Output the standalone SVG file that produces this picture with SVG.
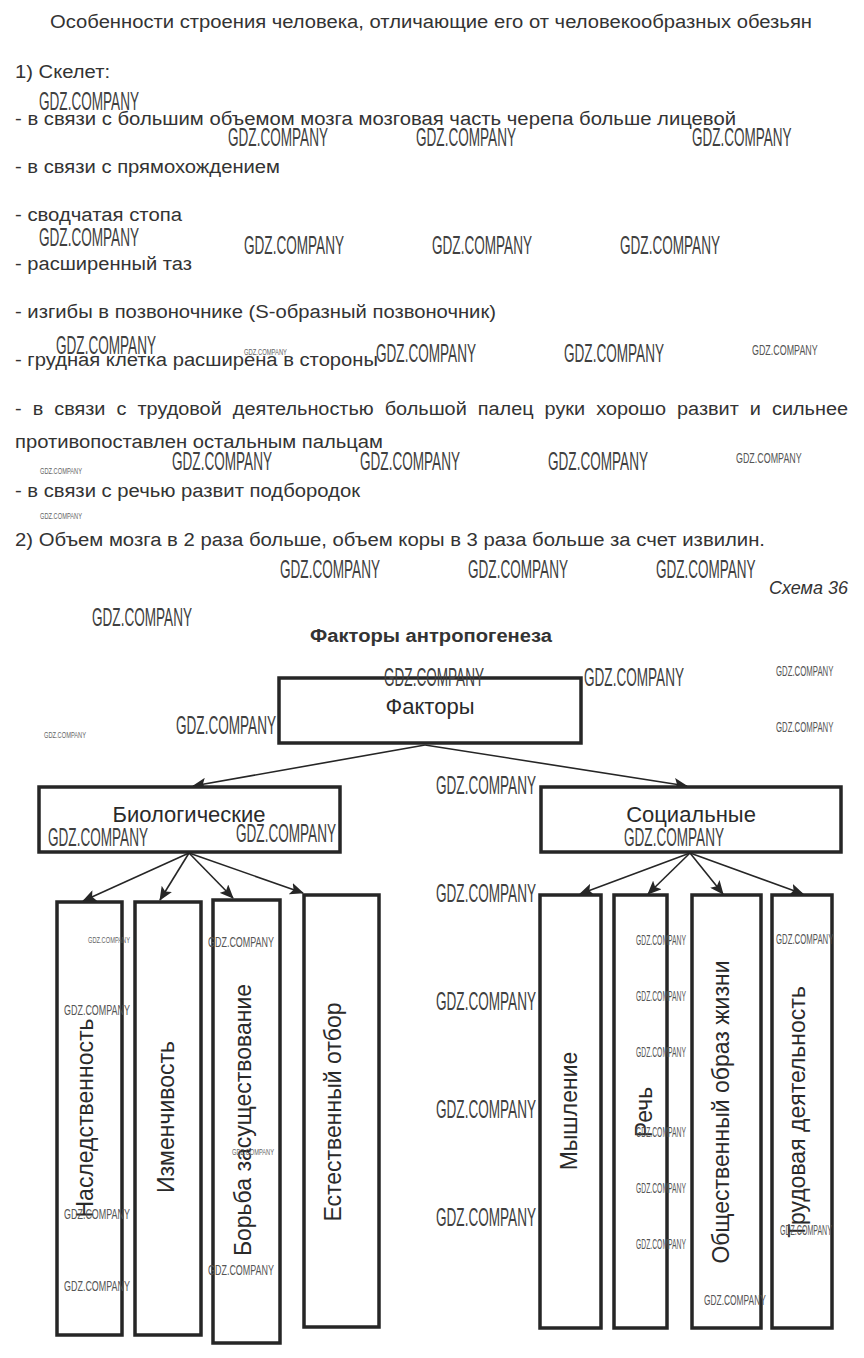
<svg xmlns="http://www.w3.org/2000/svg" width="864" height="1358" viewBox="0 0 864 1358">
<defs>
<style>
.t{font-family:"Liberation Sans",Arial,sans-serif;font-size:18px;fill:#333}
.box{fill:#fff;stroke:#262626;stroke-width:3.5}
.lbl{font-family:"Liberation Sans",Arial,sans-serif;font-size:22px;fill:#2a2a2a;text-anchor:middle}
.vl{font-family:"Liberation Sans",Arial,sans-serif;font-size:23px;fill:#2a2a2a;text-anchor:middle}
.con{stroke:#262626;stroke-width:1.6;fill:none;marker-end:url(#ah)}
.wm{font-family:"Liberation Sans",Arial,sans-serif;fill:#404040}
.wb{font-size:26px}
.wmd{font-size:15px;fill:#555}
.ws{font-size:9px;fill:#666}
</style>
<marker id="ah" markerUnits="userSpaceOnUse" markerWidth="14" markerHeight="12" viewBox="0 0 14 12" refX="13" refY="6" orient="auto">
<path d="M0,0 L14,6 L0,12 L3,6 Z" fill="#262626"/>
</marker>
</defs>
<rect width="864" height="1358" fill="#fff"/>

<g id="text">
<text class="t" x="50" y="28" textLength="762" lengthAdjust="spacingAndGlyphs">Особенности строения человека, отличающие его от человекообразных обезьян</text>
<text class="t" x="15" y="78" textLength="95" lengthAdjust="spacingAndGlyphs">1) Скелет:</text>
<text class="t" x="15" y="125" textLength="721" lengthAdjust="spacingAndGlyphs">- в связи с большим объемом мозга мозговая часть черепа больше лицевой</text>
<text class="t" x="15" y="173" textLength="265" lengthAdjust="spacingAndGlyphs">- в связи с прямохождением</text>
<text class="t" x="15" y="221" textLength="167" lengthAdjust="spacingAndGlyphs">- сводчатая стопа</text>
<text class="t" x="15" y="270" textLength="177" lengthAdjust="spacingAndGlyphs">- расширенный таз</text>
<text class="t" x="15" y="318" textLength="481" lengthAdjust="spacingAndGlyphs">- изгибы в позвоночнике (S-образный позвоночник)</text>
<text class="t" x="15" y="366" textLength="363" lengthAdjust="spacingAndGlyphs">- грудная клетка расширена в стороны</text>
<text class="t" x="15" y="415" word-spacing="5" textLength="833" lengthAdjust="spacingAndGlyphs">- в связи с трудовой деятельностью большой палец руки хорошо развит и сильнее</text>
<text class="t" x="15" y="448" textLength="368" lengthAdjust="spacingAndGlyphs">противопоставлен остальным пальцам</text>
<text class="t" x="15" y="497" textLength="345" lengthAdjust="spacingAndGlyphs">- в связи с речью развит подбородок</text>
<text class="t" x="15" y="546" textLength="750" lengthAdjust="spacingAndGlyphs">2) Объем мозга в 2 раза больше, объем коры в 3 раза больше за счет извилин.</text>
<text class="t" x="848" y="594" text-anchor="end" font-style="italic">Схема 36</text>
<text class="t" x="431" y="642" text-anchor="middle" font-weight="bold" font-size="17px" textLength="242" lengthAdjust="spacingAndGlyphs">Факторы антропогенеза</text>
</g>

<g id="connectors">
<line class="con" x1="425" y1="745" x2="193" y2="786"/>
<line class="con" x1="425" y1="745" x2="687" y2="786"/>
<line class="con" x1="189" y1="853" x2="83" y2="901"/>
<line class="con" x1="189" y1="853" x2="160" y2="900"/>
<line class="con" x1="189" y1="853" x2="233" y2="898"/>
<line class="con" x1="189" y1="853" x2="303" y2="893"/>
<line class="con" x1="690" y1="853" x2="580" y2="894"/>
<line class="con" x1="690" y1="853" x2="648" y2="894"/>
<line class="con" x1="690" y1="853" x2="723" y2="894"/>
<line class="con" x1="690" y1="853" x2="803" y2="894"/>
</g>

<g id="node-factors">
<rect class="box" x="279" y="678" width="302" height="65"/>
<text class="lbl" x="430" y="714">Факторы</text>
</g>
<g id="node-bio">
<rect class="box" x="39" y="787" width="301" height="65"/>
<text class="lbl" x="189" y="822">Биологические</text>
</g>
<g id="node-soc">
<rect class="box" x="541" y="787" width="300" height="65"/>
<text class="lbl" x="691" y="822">Социальные</text>
</g>

<g id="node-heredity">
<rect class="box" x="57" y="902" width="65" height="433"/>
<text class="vl" transform="translate(93,1118) rotate(-90)">Наследственность</text>
</g>
<g id="node-variability">
<rect class="box" x="135" y="902" width="66" height="433"/>
<text class="vl" transform="translate(174,1117) rotate(-90)">Изменчивость</text>
</g>
<g id="node-struggle">
<rect class="box" x="213" y="900" width="67" height="443"/>
<text class="vl" transform="translate(251,1120) rotate(-90)">Борьба засуществование</text>
</g>
<g id="node-selection">
<rect class="box" x="304" y="895" width="75" height="432"/>
<text class="vl" transform="translate(341,1112) rotate(-90)">Естественный отбор</text>
</g>
<g id="node-thinking">
<rect class="box" x="540" y="895" width="61" height="433"/>
<text class="vl" transform="translate(577,1111) rotate(-90)">Мышление</text>
</g>
<g id="node-speech">
<rect class="box" x="614" y="895" width="53" height="433"/>
<text class="vl" transform="translate(652,1112) rotate(-90)">Речь</text>
</g>
<g id="node-social-life">
<rect class="box" x="692" y="895" width="69" height="433"/>
<text class="vl" transform="translate(729,1112) rotate(-90)">Общественный образ жизни</text>
</g>
<g id="node-labour">
<rect class="box" x="772" y="895" width="60" height="433"/>
<text class="vl" transform="translate(805,1112) rotate(-90)">Трудовая деятельность</text>
</g>

<g id="watermarks" class="wm">
<g class="wb">
<text x="39" y="110" textLength="100" lengthAdjust="spacingAndGlyphs">GDZ.COMPANY</text>
<text x="228" y="146" textLength="100" lengthAdjust="spacingAndGlyphs">GDZ.COMPANY</text>
<text x="416" y="146" textLength="100" lengthAdjust="spacingAndGlyphs">GDZ.COMPANY</text>
<text transform="translate(692,146) scale(0.52,1)">GDZ.COMPANY</text>
<text x="39" y="246" textLength="100" lengthAdjust="spacingAndGlyphs">GDZ.COMPANY</text>
<text x="244" y="254" textLength="100" lengthAdjust="spacingAndGlyphs">GDZ.COMPANY</text>
<text x="432" y="254" textLength="100" lengthAdjust="spacingAndGlyphs">GDZ.COMPANY</text>
<text x="620" y="254" textLength="100" lengthAdjust="spacingAndGlyphs">GDZ.COMPANY</text>
<text x="56" y="354" textLength="100" lengthAdjust="spacingAndGlyphs">GDZ.COMPANY</text>
<text x="376" y="362" textLength="100" lengthAdjust="spacingAndGlyphs">GDZ.COMPANY</text>
<text x="564" y="362" textLength="100" lengthAdjust="spacingAndGlyphs">GDZ.COMPANY</text>
<text x="172" y="470" textLength="100" lengthAdjust="spacingAndGlyphs">GDZ.COMPANY</text>
<text x="360" y="470" textLength="100" lengthAdjust="spacingAndGlyphs">GDZ.COMPANY</text>
<text x="548" y="470" textLength="100" lengthAdjust="spacingAndGlyphs">GDZ.COMPANY</text>
<text x="280" y="578" textLength="100" lengthAdjust="spacingAndGlyphs">GDZ.COMPANY</text>
<text x="468" y="578" textLength="100" lengthAdjust="spacingAndGlyphs">GDZ.COMPANY</text>
<text transform="translate(656,578) scale(0.52,1)">GDZ.COMPANY</text>
<text x="92" y="626" textLength="100" lengthAdjust="spacingAndGlyphs">GDZ.COMPANY</text>
<text x="384" y="686" textLength="100" lengthAdjust="spacingAndGlyphs">GDZ.COMPANY</text>
<text x="584" y="686" textLength="100" lengthAdjust="spacingAndGlyphs">GDZ.COMPANY</text>
<text x="176" y="734" textLength="100" lengthAdjust="spacingAndGlyphs">GDZ.COMPANY</text>
<text x="436" y="794" textLength="100" lengthAdjust="spacingAndGlyphs">GDZ.COMPANY</text>
<text x="48" y="846" textLength="100" lengthAdjust="spacingAndGlyphs">GDZ.COMPANY</text>
<text x="236" y="842" textLength="100" lengthAdjust="spacingAndGlyphs">GDZ.COMPANY</text>
<text x="624" y="846" textLength="100" lengthAdjust="spacingAndGlyphs">GDZ.COMPANY</text>
<text x="436" y="902" textLength="100" lengthAdjust="spacingAndGlyphs">GDZ.COMPANY</text>
<text x="436" y="1010" textLength="100" lengthAdjust="spacingAndGlyphs">GDZ.COMPANY</text>
<text x="436" y="1118" textLength="100" lengthAdjust="spacingAndGlyphs">GDZ.COMPANY</text>
<text x="436" y="1226" textLength="100" lengthAdjust="spacingAndGlyphs">GDZ.COMPANY</text>
</g>
<g class="wmd">
<text x="64" y="1015" textLength="66" lengthAdjust="spacingAndGlyphs">GDZ.COMPANY</text>
<text x="64" y="1219" textLength="66" lengthAdjust="spacingAndGlyphs">GDZ.COMPANY</text>
<text x="64" y="1291" textLength="66" lengthAdjust="spacingAndGlyphs">GDZ.COMPANY</text>
<text x="208" y="947" textLength="66" lengthAdjust="spacingAndGlyphs">GDZ.COMPANY</text>
<text x="208" y="1275" textLength="66" lengthAdjust="spacingAndGlyphs">GDZ.COMPANY</text>
<text transform="translate(752,355) scale(0.595,1)">GDZ.COMPANY</text>
<text transform="translate(736,463) scale(0.595,1)">GDZ.COMPANY</text>
</g>
<g class="wmd" font-size="12px">
<text x="636" y="945" textLength="50" lengthAdjust="spacingAndGlyphs">GDZ.COMPANY</text>
<text x="636" y="1001" textLength="50" lengthAdjust="spacingAndGlyphs">GDZ.COMPANY</text>
<text x="636" y="1057" textLength="50" lengthAdjust="spacingAndGlyphs">GDZ.COMPANY</text>
<text x="636" y="1137" textLength="50" lengthAdjust="spacingAndGlyphs">GDZ.COMPANY</text>
<text x="636" y="1193" textLength="50" lengthAdjust="spacingAndGlyphs">GDZ.COMPANY</text>
<text x="636" y="1249" textLength="50" lengthAdjust="spacingAndGlyphs">GDZ.COMPANY</text>
<text transform="translate(704,1305) scale(0.56,1)">GDZ.COMPANY</text>
<text transform="translate(776,676) scale(0.52,1)">GDZ.COMPANY</text>
<text transform="translate(776,732) scale(0.52,1)">GDZ.COMPANY</text>
<text transform="translate(776,944) scale(0.52,1)">GDZ.COMPANY</text>
<text transform="translate(780,1235) scale(0.47,1)">GDZ.COMPANY</text>
</g>
<g class="ws">
<text x="244" y="355" textLength="43" lengthAdjust="spacingAndGlyphs">GDZ.COMPANY</text>
<text x="40" y="474" textLength="42" lengthAdjust="spacingAndGlyphs">GDZ.COMPANY</text>
<text x="40" y="519" textLength="42" lengthAdjust="spacingAndGlyphs">GDZ.COMPANY</text>
<text x="44" y="738" textLength="42" lengthAdjust="spacingAndGlyphs">GDZ.COMPANY</text>
<text x="88" y="943" textLength="42" lengthAdjust="spacingAndGlyphs">GDZ.COMPANY</text>
<text x="232" y="1155" textLength="42" lengthAdjust="spacingAndGlyphs">GDZ.COMPANY</text>
</g>
</g>
</svg>
